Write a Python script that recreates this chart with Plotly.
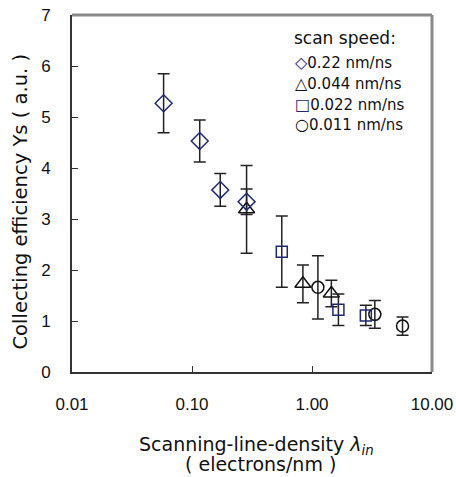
import plotly.graph_objects as go

# ---- data ----
diamond_x = [0.058, 0.116, 0.172, 0.285]
diamond_y = [5.27, 4.53, 3.57, 3.34]
diamond_err = [0.58, 0.41, 0.32, 0.25]

triangle_x = [0.285, 0.84, 1.45]
triangle_y = [3.19, 1.73, 1.54]
triangle_err = [0.86, 0.37, 0.26]

square_x = [0.56, 1.66, 2.81]
square_y = [2.36, 1.22, 1.11]
square_err = [0.70, 0.31, 0.20]

circle_x = [1.12, 3.34, 5.68]
circle_y = [1.66, 1.13, 0.90]
circle_err = [0.62, 0.27, 0.18]

x_tickvals = [0.01, 0.1, 1, 10]
x_ticktext = ["0.01", "0.10", "1.00", "10.00"]
y_tickvals = [0, 1, 2, 3, 4, 5, 6, 7]

legend_labels = ["0.22 nm/ns", "0.044 nm/ns", "0.022 nm/ns", "0.011 nm/ns"]
legend_glyphs = ["◇", "△", "□", "○"]

NAVY = "#1f2878"
BLACK = "#111111"
FONT = "Liberation Sans, Arial, sans-serif"
WIDE = "DejaVu Sans, sans-serif"

L, R, T, B = 72, 432, 15, 372
PW, PH = R - L, B - T

def px_x(x):
    return (x - L) / PW

def px_y(y):
    return (B - y) / PH

fig = go.Figure()

def add_series(x, y, err, symbol, color, size):
    fig.add_trace(go.Scatter(
        x=x, y=y, mode="markers",
        marker=dict(symbol=symbol, size=size, color=color,
                    line=dict(color=color, width=1.5)),
        error_y=dict(type="data", array=err, visible=True,
                     color="#222222", thickness=1.5, width=6),
        showlegend=False,
    ))

add_series(triangle_x, triangle_y, triangle_err, "triangle-up-open", BLACK, 14)
add_series(circle_x, circle_y, circle_err, "circle-open", BLACK, 12)
add_series(square_x, square_y, square_err, "square-open", NAVY, 11)
add_series(diamond_x, diamond_y, diamond_err, "diamond-open", NAVY, 13)

fig.update_layout(
    width=456, height=477,
    margin=dict(l=L, r=456 - R, t=T, b=477 - B, autoexpand=False),
    plot_bgcolor="white", paper_bgcolor="white",
    font=dict(family=FONT, size=17, color=BLACK),
    xaxis=dict(type="log", range=[-2, 1], tickvals=x_tickvals, ticktext=x_ticktext,
               ticks="inside", ticklen=6, tickcolor="#333", tickwidth=1,
               showline=True, linecolor="#333", linewidth=2, showgrid=False,
               zeroline=False, ticklabelstandoff=16, automargin=False,
               tickfont=dict(size=17, family=FONT)),
    yaxis=dict(range=[0, 7], tickvals=y_tickvals,
               ticks="inside", ticklen=6, tickcolor="#333", tickwidth=1,
               showline=True, linecolor="#333", linewidth=2, showgrid=False,
               zeroline=False, ticklabelstandoff=16, automargin=False,
               tickfont=dict(size=17, family=FONT)),
)

# top and right frame (grey)
fig.add_shape(type="line", xref="paper", yref="paper", x0=0, x1=1, y0=1, y1=1,
              line=dict(color="#8a8a8a", width=3))
fig.add_shape(type="line", xref="paper", yref="paper", x0=1, x1=1, y0=0, y1=1,
              line=dict(color="#8a8a8a", width=3))

# axis titles
fig.add_annotation(xref="paper", yref="paper", x=px_x(256), y=px_y(445), yanchor="middle",
                   showarrow=False,
                   text="Scanning-line-density <i>λ</i><sub><i>in</i></sub>",
                   font=dict(size=19, family=WIDE))
fig.add_annotation(xref="paper", yref="paper", x=px_x(260), y=px_y(464), yanchor="middle",
                   showarrow=False,
                   text="( electrons/nm )",
                   font=dict(size=19, family=WIDE))
fig.add_annotation(xref="paper", yref="paper", x=px_x(6), y=px_y(202), textangle=-90,
                   showarrow=False,
                   text="Collecting efficiency Ys ( a.u. )",
                   font=dict(size=19.5, family=WIDE))

# legend as text
fig.add_annotation(xref="paper", yref="paper", x=px_x(292), y=px_y(38),
                   xanchor="left", yanchor="middle", showarrow=False,
                   text="scan speed:", font=dict(size=17, family=WIDE))
leg_colors = [NAVY, BLACK, NAVY, BLACK]
leg_y = [63, 84, 104, 124]
for g, lab, c, yy in zip(legend_glyphs, legend_labels, leg_colors, leg_y):
    fig.add_annotation(xref="paper", yref="paper", x=px_x(293), y=px_y(yy),
                       xanchor="left", yanchor="middle", showarrow=False,
                       text=f"<span style='color:{c};font-size:16px'>{g}</span>{lab}",
                       font=dict(size=15, family=WIDE))

fig.write_html("out.html", config={"displayModeBar": False},
               post_script="document.body.style.margin='0';")
